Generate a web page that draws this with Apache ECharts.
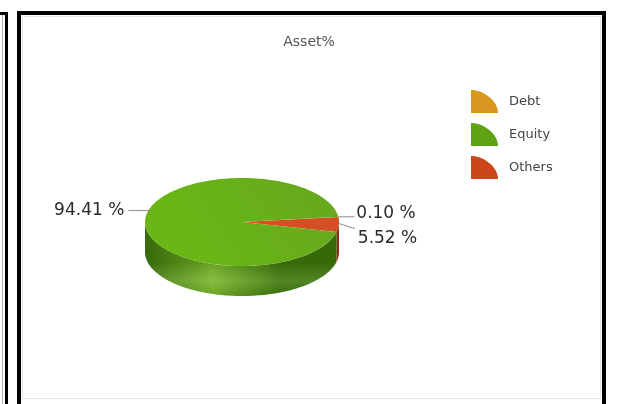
<!DOCTYPE html>
<html>
<head>
<meta charset="utf-8">
<script src="https://cdn.jsdelivr.net/npm/echarts@6/dist/echarts.min.js"></script>
<style>
  html, body { margin: 0; padding: 0; background: #ffffff; }
  #chart { width: 618px; height: 404px; }
</style>
</head>
<body>
<div id="chart"></div>
<script>
// Asset allocation shares (percent)
const categories = ['Debt', 'Equity', 'Others'];
const values = [0.10, 94.41, 5.52];
const labelTexts = ['0.10 %', '94.41 %', '5.52 %'];

// Slice colours: top face, side face (light, dark)
const topColors = ['#d8981f', '#5ea313', '#cc461b'];
const sideLight = ['#e0a83a', '#78b82a', '#d35a2a'];
const sideDark = ['#a86f12', '#3d770b', '#9a3412'];

// Tilted pie geometry
const pie = { cx: 242, cy: 222, rx: 97, ry: 44, depth: 30, startAngle: 6.6 };

const total = values.reduce((a, b) => a + b, 0);
const DEG = Math.PI / 180;

function sliceRange(i) {
  let cum = 0;
  for (let k = 0; k < i; k++) cum += values[k];
  const a0 = pie.startAngle + 360 * cum / total;
  const a1 = a0 + 360 * values[i] / total;
  return [a0, a1];
}

function rim(t, dy) {
  return [pie.cx + pie.rx * Math.cos(t * DEG), pie.cy - pie.ry * Math.sin(t * DEG) + (dy || 0)];
}

function arc(a0, a1, dy) {
  const pts = [];
  const n = Math.max(2, Math.ceil(Math.abs(a1 - a0) / 1.5));
  for (let s = 0; s <= n; s++) pts.push(rim(a0 + (a1 - a0) * s / n, dy));
  return pts;
}

// rim x on the left/right side at a given screen y
function rimXAt(y, side) {
  const f = Math.max(0, 1 - Math.pow((y - pie.cy) / pie.ry, 2));
  return pie.cx + side * pie.rx * Math.sqrt(f);
}

function renderSlice(i) {
  return function (params, api) {
    const [a0, a1] = sliceRange(i);
    const children = [];

    // front wall: parts of the slice whose rim faces the viewer
    for (let k = -1; k <= 2; k++) {
      const lo = Math.max(a0, 180 + 360 * k);
      const hi = Math.min(a1, 360 + 360 * k);
      if (hi > lo) {
        const pts = arc(lo, hi, 0).concat(arc(hi, lo, pie.depth));
        children.push({
          type: 'polygon',
          shape: { points: pts },
          style: {
            fill: new echarts.graphic.LinearGradient(pie.cx - pie.rx, 0, pie.cx + pie.rx, 0, [
              { offset: 0, color: sideDark[i] },
              { offset: 0.35, color: sideLight[i] },
              { offset: 0.7, color: sideDark[i] },
              { offset: 1, color: sideDark[i] }
            ], true)
          }
        });
        children.push({
          type: 'polygon',
          shape: { points: pts },
          style: {
            fill: new echarts.graphic.LinearGradient(0, pie.cy, 0, pie.cy + pie.ry + pie.depth, [
              { offset: 0, color: 'rgba(0,0,0,0.10)' },
              { offset: 0.55, color: 'rgba(0,0,0,0.12)' },
              { offset: 0.8, color: 'rgba(255,255,255,0.10)' },
              { offset: 1, color: 'rgba(0,0,0,0.10)' }
            ], true)
          }
        });
      }
    }

    // top face
    const topPts = [[pie.cx, pie.cy]].concat(arc(a0, a1, 0));
    children.push({
      type: 'polygon',
      shape: { points: topPts },
      style: {
        fill: new echarts.graphic.LinearGradient(pie.cx + pie.rx, pie.cy - pie.ry, pie.cx - pie.rx * 0.4, pie.cy + pie.ry, [
          { offset: 0, color: echarts.color.lift(topColors[i], 0.05) },
          { offset: 1, color: echarts.color.lift(topColors[i], -0.12) }
        ], true)
      }
    });

    // value label with leader line
    const mid = (a0 + a1) / 2;
    const anchor = rim(mid, 0);
    const onLeft = Math.cos(mid * DEG) < 0;
    let line, text;
    if (onLeft) {
      const ly = anchor[1] - 9;
      const rx = rimXAt(ly, -1);
      line = [[rx + 2, ly], [rx - 20, ly]];
      text = { x: rx - 24, y: ly, align: 'right' };
    } else if (mid > 0 && Math.sin(mid * DEG) > 0.05) {
      line = [[anchor[0], anchor[1]], [anchor[0] + 16, anchor[1]]];
      text = { x: anchor[0] + 18, y: anchor[1] - 3, align: 'left' };
    } else {
      line = [[anchor[0], anchor[1] - 1], [anchor[0] + 16, anchor[1] + 4]];
      text = { x: anchor[0] + 19, y: anchor[1] + 14, align: 'left' };
    }
    children.push({
      type: 'polyline',
      shape: { points: line },
      style: { stroke: '#8a8a8a', lineWidth: 1, fill: null }
    });
    children.push({
      type: 'text',
      style: {
        x: text.x, y: text.y, text: labelTexts[i],
        align: text.align, verticalAlign: 'middle',
        fill: '#2a2a2a', font: '17px "DejaVu Sans"'
      }
    });
    return { type: 'group', children: children };
  };
}

const chart = echarts.init(document.getElementById('chart'), null, { renderer: 'canvas' });

// draw order: slices whose front wall lies further back go first
const order = [0, 2, 1];
const series = order.map(i => ({
  type: 'custom',
  name: categories[i],
  coordinateSystem: 'none',
  silent: true,
  itemStyle: { color: topColors[i] },
  data: [[values[i]]],
  renderItem: renderSlice(i)
}));

chart.setOption({
  animation: false,
  backgroundColor: '#ffffff',
  title: {
    text: 'Asset%',
    left: 'center',
    top: 30,
    textStyle: { fontFamily: 'DejaVu Sans', fontSize: 14, fontWeight: 'normal', color: '#555555' }
  },
  legend: {
    data: categories,
    orient: 'vertical',
    left: 466,
    top: 85,
    itemWidth: 27,
    itemHeight: 23,
    itemGap: 10,
    symbolKeepAspect: false,
    icon: 'path://M0,30 L0,0 C14,0 30,14 30,30 Z',
    textStyle: { fontFamily: 'DejaVu Sans', fontSize: 13, color: '#444444', padding: [0, 0, 0, 6] },
    selectedMode: false
  },
  graphic: [
    // left neighbour panel edge
    { type: 'rect', shape: { x: 2, y: 12, width: 1, height: 400 }, style: { fill: '#b0b0b0' } },
    { type: 'rect', shape: { x: 5, y: 12, width: 3, height: 400 }, style: { fill: '#000000' } },
    { type: 'rect', shape: { x: 0, y: 12, width: 8, height: 3 }, style: { fill: '#000000' } },
    // panel frame
    { type: 'rect', shape: { x: 19, y: 13, width: 585, height: 420 }, style: { fill: null, stroke: '#000000', lineWidth: 4 } },
    { type: 'rect', shape: { x: 22.5, y: 16.5, width: 578, height: 382 }, style: { fill: null, stroke: '#e4e4e4', lineWidth: 1 } }
  ],
  series: series
});
</script>
</body>
</html>
